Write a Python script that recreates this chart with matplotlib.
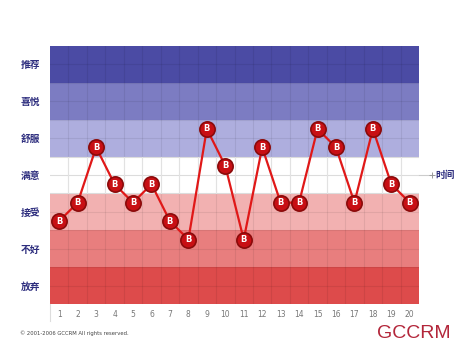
import matplotlib
matplotlib.use('Agg')
from matplotlib import pyplot as plt

plt.rcParams['font.family'] = ['Noto Sans CJK SC', 'DejaVu Sans']

# 满意度等级(从下到上)及颜色
levels = ['放弃', '不好', '接受', '满意', '舒服', '喜悦', '推荐']
band_colors = ['#dd4b4b', '#e87e7e', '#f2b1b1', '#ffffff', '#aeaede', '#7c7cc2', '#4b4ba4']

# 时间点和对应的满意度
times = list(range(1, 21))
scores = [4.5, 5.5, 8.5, 6.5, 5.5, 6.5, 4.5, 3.5, 9.5, 7.5,
          3.5, 8.5, 5.5, 5.5, 9.5, 8.5, 5.5, 9.5, 6.5, 5.5]

fig = plt.figure(figsize=(4.68, 3.51), dpi=100)
ax = fig.add_axes([50 / 468, 1 - 304 / 351, 369 / 468, 258 / 351])

# 背景色带
for i, c in enumerate(band_colors):
    ax.axhspan(2 * i, 2 * i + 2, color=c, lw=0, zorder=0)

# 网格线
for y in range(1, 14):
    gc = '#dcdcdc' if 6 <= y <= 8 else (0, 0, 0, 0.07)
    ax.axhline(y, color=gc, lw=0.8, zorder=1)
for x in range(1, 20):
    ax.axvline(x + 0.5, color=(0, 0, 0, 0.07), lw=0.8, zorder=1)
    ax.plot([x + 0.5, x + 0.5], [6, 8], color='#e2e2e2', lw=0.8, zorder=1)

# 数据折线
ax.plot(times, scores, color='#e01818', lw=1.6, zorder=3)
ax.plot(times, scores, 'o', ms=11, mfc='#c80f14', mec='#8a0a0a', mew=1.2, zorder=4)
for t, s in zip(times, scores):
    ax.text(t, s, 'B', color='white', fontsize=6, fontweight='bold',
            ha='center', va='center', family='DejaVu Sans', zorder=5)

ax.set_xlim(0.5, 20.5)
ax.set_ylim(0, 14)
ax.set_xticks(times)
ax.set_xticklabels([str(t) for t in times], fontsize=5.5, color='#777777', family='DejaVu Sans')
ax.set_yticks([2 * i + 1 for i in range(7)])
ax.set_yticklabels(levels, fontsize=7, color='#2e2e7e', fontweight='bold')
ax.tick_params(axis='both', length=0)
ax.tick_params(axis='y', pad=7)
ax.tick_params(axis='x', pad=4)
for sp in ax.spines.values():
    sp.set_visible(False)

# 时间轴延伸
ax.plot([20.5, 21.2], [7, 7], color='#cccccc', lw=0.8, clip_on=False)
ax.plot([21.2], [7], '+', color='#999999', ms=4, mew=0.7, clip_on=False)
ax.text(21.4, 7, '时间', fontsize=7, color='#2e2e7e', fontweight='bold',
        va='center', ha='left')
ax.plot([0.5, 0.5], [0, -0.9], color='#dddddd', lw=0.8, clip_on=False)

fig.text(20 / 468, 1 - 333 / 351, '© 2001-2006 GCCRM All rights reserved.',
         fontsize=3.8, color='#444444', va='center', family='DejaVu Sans')
fig.text(414 / 468, 1 - 333 / 351, 'GCCRM', fontsize=14, color='#b3263a',
         ha='center', va='center', family='Liberation Sans')

fig.savefig('out.png', dpi=100)
